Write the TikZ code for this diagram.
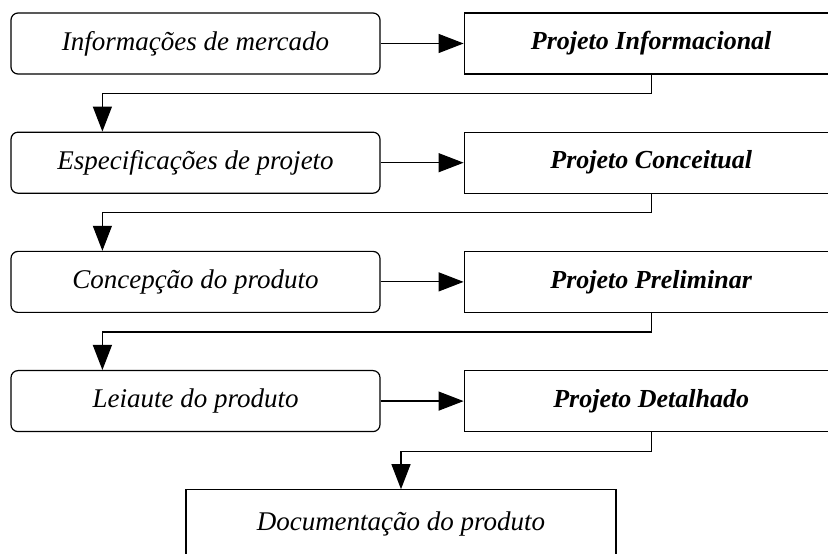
\documentclass[tikz,border=0pt]{standalone}
\usepackage{fontspec}
\setmainfont{Liberation Serif}
\usepackage{tikz}
\usetikzlibrary{positioning, shapes, arrows.meta}

\begin{document}
\begin{tikzpicture}[x=1pt, y=1pt, >={Triangle[length=25pt, width=19pt]}, node distance=57pt, line width=1.2pt,
    entrada/.style={draw, rectangle, rounded corners=7pt, minimum width=369pt, minimum height=61pt, font=\fontsize{27}{30}\selectfont\itshape},
    fase/.style={draw, rectangle, minimum width=374pt, minimum height=61pt, font=\fontsize{26}{30}\selectfont\bfseries\itshape}]

    \useasboundingbox (0,0) rectangle (828,554);
    \clip (0,0) rectangle (828,554);

    % Entradas de cada fase
    \node[entrada] (merc) at (195.5,510.5) {Informações de mercado};
    \node[entrada, below=of merc] (espec) {Especificações de projeto};
    \node[entrada, below=of espec] (conc) {Concepção do produto};
    \node[entrada, below=of conc] (leia) {Leiaute do produto};

    % Fases do projeto
    \node[fase, right=83pt of merc] (pinf) {Projeto Informacional};
    \node[fase, right=83pt of espec] (pconc) {Projeto Conceitual};
    \node[fase, right=83pt of conc] (pprel) {Projeto Preliminar};
    \node[fase, right=83pt of leia] (pdet) {Projeto Detalhado};

    % Saida final
    \node[draw, rectangle, below=of leia, xshift=205.5pt, minimum width=430pt, minimum height=68pt, font=\fontsize{27}{30}\selectfont\itshape] (doc) {Documentação do produto};

    % Conexoes: entrada para fase
    \draw[->] (merc) -- (pinf);
    \draw[->] (espec) -- (pconc);
    \draw[->] (conc) -- (pprel);
    \draw[->] (leia) -- (pdet);

    % Conexoes: fase para a proxima entrada
    \draw[->] (pinf.south) -- ++(0,-19) -| ([xshift=92pt]espec.north west);
    \draw[->] (pconc.south) -- ++(0,-19) -| ([xshift=92pt]conc.north west);
    \draw[->] (pprel.south) -- ++(0,-19) -| ([xshift=92pt]leia.north west);
    \draw[->] (pdet.south) -- ++(0,-19) -| (doc.north);

\end{tikzpicture}
\end{document}
